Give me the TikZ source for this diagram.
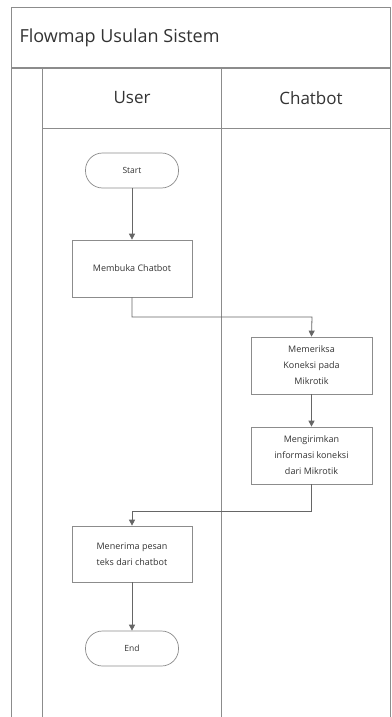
\documentclass[tikz,border=0pt]{standalone}
\usepackage{fontspec}
\setmainfont{Open Sans}
\usetikzlibrary{arrows.meta}
\begin{document}
\begin{tikzpicture}[x=1pt,y=-1pt,
  frame/.style={draw=black!45,line width=1pt},
  proc/.style={draw=black!45,line width=0.7pt,minimum width=120pt,align=center,font=\fontsize{9}{16}\selectfont,inner sep=1pt,text=black!80},
  term/.style={draw=black!45,line width=0.7pt,rounded corners=17pt,minimum width=93pt,minimum height=35pt,font=\fontsize{8.5}{10}\selectfont,text=black!80},
  flow/.style={draw=black!60,line width=0.8pt,-{Triangle[length=6pt,width=6pt]}}]
\useasboundingbox (0,0) rectangle (391,717);
\fill[white] (0,0) rectangle (391,717);
% outer frame
\draw[frame] (11,720) -- (11,8) -- (390,8) -- (390,720);
\draw[frame] (11,68) -- (390,68);
\node[anchor=west,font=\fontsize{18}{20}\selectfont,text=black!80] (title) at (16,38) {Flowmap Usulan Sistem};
% lanes
\draw[frame] (42,720) -- (42,68);
\draw[frame] (221,720) -- (221,68);
\draw[frame] (42,128) -- (390,128);
\node[font=\fontsize{17}{19}\selectfont,text=black!80] (user) at (132,98) {User};
\node[font=\fontsize{17}{19}\selectfont,text=black!80] (chat) at (311,98) {Chatbot};
% nodes
\node[term] (start) at (132,170.5) {Start};
\node[proc,minimum height=57pt] (buka) at (132,268.5) {Membuka Chatbot};
\node[proc,minimum height=57pt,minimum width=121pt] (periksa) at (311.5,365.5) {Memeriksa\\Koneksi pada\\Mikrotik};
\node[proc,minimum height=57pt,minimum width=121pt] (kirim) at (311.5,455.5) {Mengirimkan\\informasi koneksi\\dari Mikrotik};
\node[proc,minimum height=56pt] (terima) at (132,554) {Menerima pesan\\teks dari chatbot};
\node[term] (end) at (132,648.5) {End};
% connectors
\draw[flow] (start) -- (buka);
\draw[flow] (buka.south) |- (312,317) -- (periksa.north);
\draw[flow] (periksa) -- (kirim);
\draw[flow] (kirim.south) |- (132,511) -- (terima.north);
\draw[flow] (terima) -- (end);
\end{tikzpicture}
\end{document}
